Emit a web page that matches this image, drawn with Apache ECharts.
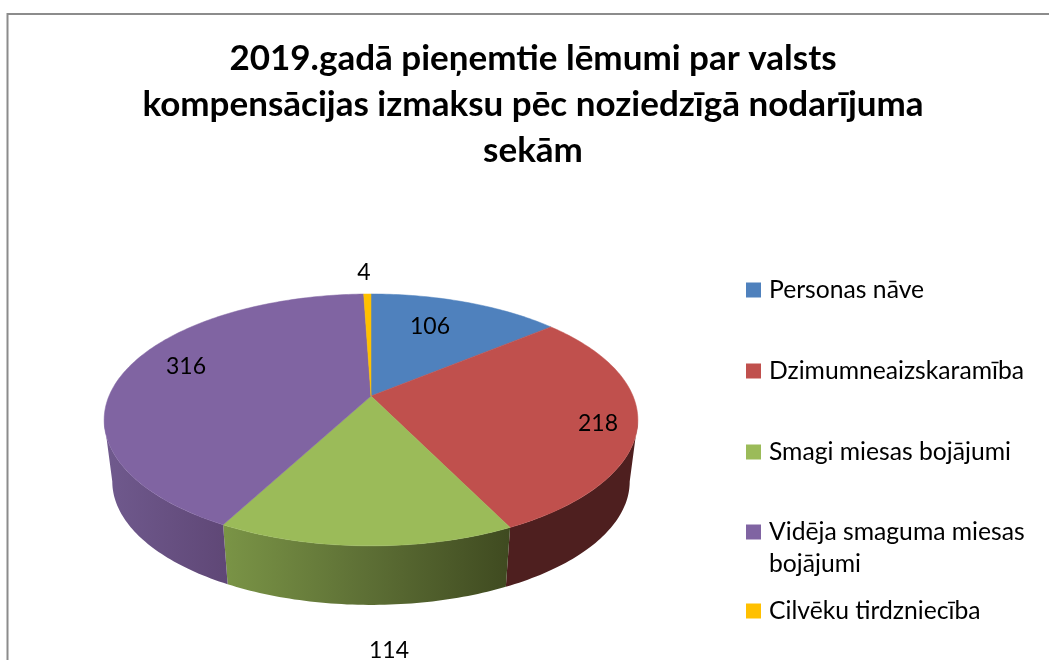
<!DOCTYPE html>
<html>
<head>
    <meta charset="utf-8">
    <title>ECharts</title>
    <style>
        html,body{margin:0;padding:0;background:#fff;}
    </style>
</head>
<body>
<div id="main" style="width:1049px;height:660px;"></div>
<script src="https://cdn.jsdelivr.net/npm/echarts@6/dist/echarts.min.js" type="text/javascript"></script>
<script type="text/javascript">

var titleText='2019.gadā pieņemtie lēmumi par valsts\nkompensācijas izmaksu pēc noziedzīgā nodarījuma\nsekām';
var categories=['Personas nāve','Dzimumneaizskaramība','Smagi miesas bojājumi','Vidēja smaguma miesas\nbojājumi','Cilvēku tirdzniecība'];
var values=[106,218,114,316,4];
var colors=['#4f81bd','#c0504d','#9bbb59','#8064a2','#ffc000'];

// label centres
var labelPos=[[430,327],[598,424],[389,651],[186,367],[364,273]];

var font='Lato';
var total=values.reduce(function(a,b){return a+b;},0);

// perspective disc: top face and the lower ring of the wall
var k=0.19;
var topRing={cx:371,cy:396,rx:262,ry:121.4};
var lowRing={cx:371,cy:458,rx:254,ry:119};

// the wall only shows between the two points where the outline turns back
var wallFrom=Math.acos(-k)*180/Math.PI;
var wallTo=360-wallFrom;

function project(ring,deg){
    var a=deg*Math.PI/180;
    var s=1/(1+k*Math.cos(a));
    return [ring.cx+ring.rx*Math.sin(a)*s,ring.cy-ring.ry*Math.cos(a)*s];
}

function arc(ring,from,to){
    var pts=[];
    var n=Math.max(2,Math.ceil((to-from)));
    for(var i=0;i<=n;i++)
        pts.push(project(ring,from+(to-from)*i/n));
    return pts;
}

function wallFill(i){
    if(i==1) return '#4e1f1f';
    if(i==2) return new echarts.graphic.LinearGradient(224,0,510,0,[
        {offset:0,color:'#7a9446'},{offset:0.5,color:'#5d6f35'},{offset:1,color:'#3f4a20'}],true);
    if(i==3) return new echarts.graphic.LinearGradient(103,0,228,0,[
        {offset:0,color:'#705a8e'},{offset:1,color:'#5f4776'}],true);
    return colors[i];
}

function makeRenderItem(i){
    return function(params,api){
        var before=0;
        for(var j=0;j<i;j++) before+=values[j];
        var from=before/total*360;
        var to=from+api.value(0)/total*360;
        var children=[];

        var a=Math.max(from,wallFrom);
        var b=Math.min(to,wallTo);
        if(b>a){
            children.push({
                type:'polygon',
                z2:1,
                shape:{points:arc(topRing,a,b).concat(arc(lowRing,a,b).reverse())},
                style:{fill:wallFill(i)}
            });
        }
        children.push({
            type:'polygon',
            z2:2,
            shape:{points:[[topRing.cx,topRing.cy]].concat(arc(topRing,from,to))},
            style:{fill:colors[i],stroke:colors[i],lineWidth:0.5}
        });
        children.push({
            type:'text',
            z2:3,
            style:{
                text:String(values[i]),
                x:labelPos[i][0],
                y:labelPos[i][1],
                align:'center',
                verticalAlign:'middle',
                fill:'#000',
                font:'23px '+font
            }
        });
        return {type:'group',children:children};
    };
}

var series=[];
for(var i=0;i<values.length;i++){
    series.push({
        name:categories[i],
        type:'custom',
        coordinateSystem:'none',
        renderItem:makeRenderItem(i),
        itemStyle:{color:colors[i]},
        silent:true,
        animation:false,
        data:[[values[i]]]
    });
}

var legendBase={
    orient:'vertical',
    left:746,
    padding:0,
    icon:'rect',
    itemWidth:15,
    itemHeight:15,
    selectedMode:false,
    textStyle:{fontFamily:font,fontSize:24.7,color:'#000',lineHeight:28,padding:[0,0,0,3]}
};

var option={
    animation:false,
    backgroundColor:'#fff',
    title:{
        text:titleText,
        left:528,
        top:31,
        textAlign:'center',
        textStyle:{fontFamily:font,fontSize:35,fontWeight:'bold',color:'#000',lineHeight:46}
    },
    graphic:[{
        type:'polyline',
        silent:true,
        shape:{points:[[7.5,660],[7.5,14],[1049,14]]},
        style:{stroke:'#8c8c8c',lineWidth:2,fill:null}
    }],
    legend:[
        Object.assign({},legendBase,{top:276,itemGap:53,data:categories.slice(0,3)}),
        // blank first line keeps the key level with the first text line
        Object.assign({},legendBase,{
            top:484,
            formatter:'\n{name}',
            textStyle:Object.assign({},legendBase.textStyle,{lineHeight:32}),
            data:[categories[3]]
        }),
        Object.assign({},legendBase,{top:597,data:[categories[4]]})
    ],
    series:series
};

var myChart=echarts.init(document.getElementById('main'));
myChart.setOption(option);
</script>
</body>
</html>
